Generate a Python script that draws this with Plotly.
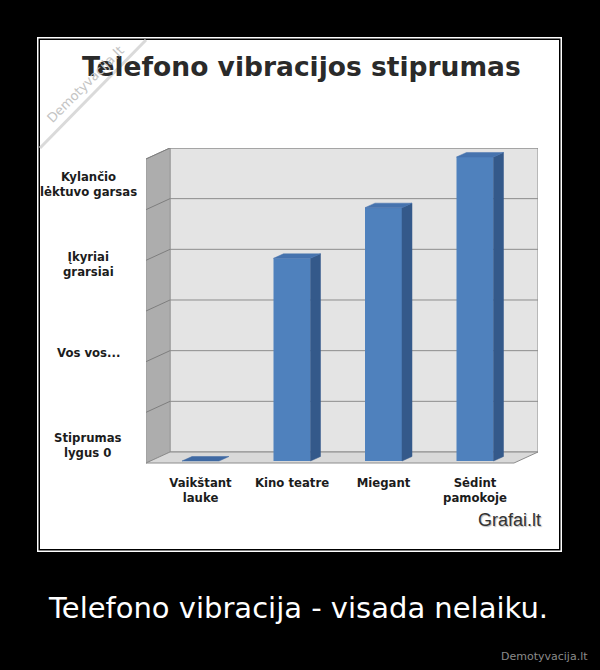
import plotly.graph_objects as go

# ---------------- data ----------------
categories = ["Vaikštant<br>lauke", "Kino teatre", "Miegant", "Sėdint<br>pamokoje"]
values = [0, 4, 5, 6]
level_ticks = [0, 1, 2, 3, 4, 5, 6]
level_labels = ["Stiprumas<br>lygus 0", "Vos vos...", "Įkyriai<br>grarsiai", "Kylančio<br>lėktuvo garsas"]
title_text = "Telefono vibracijos stiprumas"
caption_text = "Telefono vibracija - visada nelaiku."
site_text = "Demotyvacija.lt"
source_text = "Grafai.lt"

# ---------------- layout geometry ----------------
level_label_y = [0.35, 2.17, 3.91, 5.49]   # label centres in axis units
W, H = 600, 670
L, R, T, B = 146, 538, 148, 464
PW, PH = R - L, B - T
X0, SX = 200.5, 91.5      # px of category 0 / px per category
Y0, SY = 463.0, 50.67     # px of value 0 / px per unit


def dx(p):
    return p / SX


def dy(p):
    return p / SY


def pxx(p):
    return (p - L) / PW


def pxy(p):
    return (B - p) / PH


xr = [(L - X0) / SX, (R - X0) / SX]
yr = [(Y0 - B) / SY, (Y0 - T) / SY]
YMAX = max(level_ticks)
WDX, WDY = dx(24), dy(11)
x_fl, x_br = xr[0], xr[1]
x_bl, x_fr = x_fl + WDX, x_br - WDX

GRID = "#8C8C8C"
FRONT, SIDE, TOP = "#4F81BD", "#34598A", "#4673AE"


def path(pts):
    return "M " + " L ".join(f"{x},{y}" for x, y in pts) + " Z"


shapes = []
# poster frame
shapes.append(dict(type="rect", xref="paper", yref="paper", layer="below",
                   x0=pxx(37), x1=pxx(562), y0=pxy(552), y1=pxy(37),
                   fillcolor="white", line=dict(width=0)))
shapes.append(dict(type="rect", xref="paper", yref="paper", layer="below",
                   x0=pxx(38.5), x1=pxx(560.5), y0=pxy(550.5), y1=pxy(38.5),
                   fillcolor="black", line=dict(width=0)))
shapes.append(dict(type="rect", xref="paper", yref="paper", layer="below",
                   x0=pxx(40), x1=pxx(559), y0=pxy(549), y1=pxy(40),
                   fillcolor="white", line=dict(width=0)))
# watermark fold stripe
shapes.append(dict(type="line", xref="paper", yref="paper", layer="below",
                   x0=pxx(40), y0=pxy(148), x1=pxx(146), y1=pxy(40),
                   line=dict(color="#DADADA", width=3)))

# back wall
shapes.append(dict(type="rect", xref="x", yref="y", layer="below",
                   x0=x_bl, x1=x_br, y0=WDY, y1=YMAX + WDY,
                   fillcolor="#E4E4E4", line=dict(color=GRID, width=1)))
# side wall
shapes.append(dict(type="path", xref="x", yref="y", layer="below",
                   path=path([(x_fl, 0), (x_fl, YMAX), (x_bl, YMAX + WDY), (x_bl, WDY)]),
                   fillcolor="#ADADAD", line=dict(color="#9A9A9A", width=1)))
# gridlines
for v in level_ticks[1:]:
    shapes.append(dict(type="line", xref="x", yref="y", layer="below",
                       x0=x_bl, x1=x_br, y0=v + WDY, y1=v + WDY,
                       line=dict(color=GRID, width=1)))
    shapes.append(dict(type="line", xref="x", yref="y", layer="below",
                       x0=x_fl, x1=x_bl, y0=v, y1=v + WDY,
                       line=dict(color="#7E7E7E", width=1)))
# floor
shapes.append(dict(type="path", xref="x", yref="y", layer="below",
                   path=path([(x_fl, 0), (x_fr, 0), (x_br, WDY), (x_bl, WDY)]),
                   fillcolor="#D9D9D9", line=dict(color=GRID, width=1)))

fig = go.Figure()

n = len(values)
bw = 37 / SX
base = dy(2)
bdx, bdy = dx(10), dy(4.5)
xs = list(range(n))

fig.add_trace(go.Bar(x=xs, y=values, base=[base] * n, width=bw,
                     marker=dict(color=FRONT, line=dict(width=0)),
                     hoverinfo="skip", showlegend=False))

for i, v in enumerate(values):
    xl, xrr = i - bw / 2, i + bw / 2
    top = base + v
    if v > 0:
        fig.add_trace(go.Scatter(
            x=[xrr, xrr + bdx, xrr + bdx, xrr, xrr],
            y=[base, base + bdy, top + bdy, top, base],
            mode="lines", fill="toself", fillcolor=SIDE,
            line=dict(color=SIDE, width=0.5), hoverinfo="skip", showlegend=False))
    fig.add_trace(go.Scatter(
        x=[xl, xrr, xrr + bdx, xl + bdx, xl],
        y=[top, top, top + bdy, top + bdy, top],
        mode="lines", fill="toself", fillcolor=TOP if v > 0 else "#3F69A3",
        line=dict(color=TOP if v > 0 else "#3F69A3", width=0.5),
        hoverinfo="skip", showlegend=False))

LBL = dict(family="DejaVu Sans", size=11.7, color="#1C1C1C", weight="bold")

annotations = []
for txt, yv in zip(level_labels, level_label_y):
    annotations.append(dict(text=txt, xref="paper", yref="y", x=pxx(88), y=yv,
                            xanchor="center", yanchor="middle", align="center",
                            showarrow=False, font=LBL))
annotations.append(dict(text=title_text, xref="paper", yref="paper",
                        x=pxx(301), y=pxy(67), xanchor="center", yanchor="middle",
                        showarrow=False,
                        font=dict(family="DejaVu Sans", size=26.5, color="#2A2A2A", weight="bold")))
annotations.append(dict(text=source_text, xref="paper", yref="paper",
                        x=pxx(543), y=pxy(520), xanchor="right", yanchor="middle",
                        showarrow=False,
                        font=dict(family="Liberation Sans", size=18, color="#333333",
                                  shadow="1px 1px 1px #BBBBBB")))
annotations.append(dict(text=caption_text, xref="paper", yref="paper",
                        x=pxx(298), y=pxy(608), xanchor="center", yanchor="middle",
                        showarrow=False,
                        font=dict(family="DejaVu Sans", size=29, color="white")))
annotations.append(dict(text=site_text, xref="paper", yref="paper",
                        x=pxx(590), y=pxy(656), xanchor="right", yanchor="middle",
                        showarrow=False,
                        font=dict(family="DejaVu Sans", size=11, color="#8A8A8A")))
annotations.append(dict(text=site_text, xref="paper", yref="paper",
                        x=pxx(85), y=pxy(84), xanchor="center", yanchor="middle",
                        textangle=-45, showarrow=False,
                        font=dict(family="DejaVu Sans", size=13, color="#C4C4C4")))

fig.update_layout(
    width=W, height=H,
    margin=dict(l=L, r=W - R, t=T, b=H - B, pad=0),
    paper_bgcolor="black", plot_bgcolor="rgba(0,0,0,0)",
    shapes=shapes, annotations=annotations,
    showlegend=False, barmode="overlay",
    xaxis=dict(range=xr, tickvals=xs, ticktext=categories, showgrid=False,
               zeroline=False, showline=False, ticks="", tickfont=LBL,
               ticklabelstandoff=10, fixedrange=True),
    yaxis=dict(range=yr, showticklabels=False, showgrid=False, zeroline=False,
               showline=False, ticks="", fixedrange=True),
)

fig.write_html("out.html", config={"displayModeBar": False},
               post_script="document.body.style.margin='0';document.body.style.overflow='hidden';document.body.style.background='black';")
